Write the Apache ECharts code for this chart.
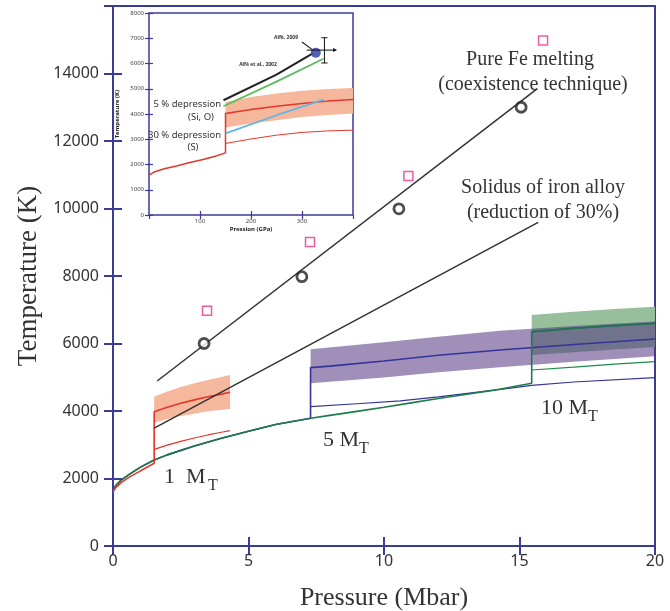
<!DOCTYPE html>
<html>
<head>
<meta charset="utf-8">
<script src="https://cdn.jsdelivr.net/npm/echarts@6/dist/echarts.min.js"></script>
<style>
html, body { margin: 0; padding: 0; background: #fff; }
#chart { width: 670px; height: 611px; }
</style>
</head>
<body>
<div id="chart"></div>
<script>
// -------------------------
// Melting curves vs pressure, with inset
// -------------------------

const axisBlue = '#3b3b9b';
const serif = '"Liberation Serif", "Times New Roman", serif';
const sans = '"Noto Sans", "Open Sans", sans-serif';

// ---- main panel: pressure (Mbar) / temperature (K) ----
const redBaseP = [0, 0.1, 0.3, 0.6, 1, 1.52];
const redBaseT = [1600, 1730, 1880, 2040, 2220, 2450];
const redTopP = [1.52, 2, 2.5, 3, 3.5, 4, 4.32];
const redTopT = [3980, 4110, 4230, 4330, 4420, 4500, 4554];
const redLowT = [2865, 2990, 3100, 3200, 3290, 3370, 3417];
const orangeHiT = [4425, 4580, 4710, 4820, 4920, 5010, 5067];
const orangeLoT = [3654, 3760, 3850, 3920, 3990, 4040, 4059];

const adiabatP = [0, 0.1, 0.3, 0.6, 1, 1.5, 2, 3, 4, 5, 6, 7.29];
const adiabatT = [1650, 1790, 1950, 2120, 2330, 2540, 2700, 2960, 3190, 3400, 3600, 3783];
const greenMidP = [7.29, 8, 9, 10, 11, 12, 13, 14, 15.45];
const greenMidT = [3783, 3870, 3990, 4110, 4240, 4370, 4490, 4610, 4820];

const blueTopP = [7.29, 8, 10, 12, 14.28, 17, 20];
const blueTopT = [5284, 5330, 5480, 5650, 5807, 5970, 6133];
const purpleP = [7.29, 10, 12, 14.28, 17, 20];
const purpleHiT = [5827, 6040, 6200, 6380, 6520, 6650];
const purpleLoT = [4820, 4990, 5150, 5295, 5460, 5620];
const blueLowP = [7.29, 9, 10.6, 12, 14.3, 15.45, 17, 20];
const blueLowT = [4128, 4215, 4300, 4420, 4640, 4760, 4860, 4988];

const greenTopP = [15.45, 17, 18.5, 20];
const greenTopT = [6350, 6450, 6530, 6598];
const greenHiT = [6844, 6940, 7020, 7091];
const greenLoT = [5659, 5740, 5820, 5900];
const greenLowT = [5215, 5300, 5390, 5462];

const pureFeP = [1.63, 15.66];
const pureFeT = [4889, 13551];
const solidusP = [1.52, 15.69];
const solidusT = [3490, 9590];

const abInitioP = [3.36, 6.97, 10.55, 15.06];
const abInitioT = [6000, 7980, 9990, 13000];
const squareP = [3.47, 7.27, 10.9, 15.87];
const squareT = [6970, 9010, 10960, 14980];

// ---- inset: pressure (GPa) / temperature (K) ----
const inRedBaseP = [0, 10, 30, 54, 80, 106, 130, 150];
const inRedBaseT = [1580, 1700, 1830, 1940, 2080, 2200, 2330, 2460];
const inRedTopP = [150, 200, 250, 300, 350, 400];
const inRedTopT = [4020, 4180, 4308, 4420, 4510, 4573];
const inRedLowT = [2834, 3010, 3162, 3270, 3330, 3360];
const inBandHiT = [4478, 4670, 4810, 4920, 4990, 5032];
const inBandLoT = [3466, 3620, 3755, 3880, 3960, 4020];
const inLightBlueP = [150, 250, 342];
const inLightBlueT = [3229, 3950, 4573];
const inBlackP = [146, 250, 322];
const inBlackT = [4545, 5560, 6415];
const inGreenP = [146, 250, 342];
const inGreenT = [4308, 5280, 6190];
const alfe2009 = [327, 6430];
const errX = [309, 365];   // GPa, horizontal bar
const errY = [6020, 7020]; // K, vertical bar
const errCenter = [344, 6530];
const alfeLeaderP = [300, 322];
const alfeLeaderT = [6850, 6520];

// ----------------------
// helpers
// ----------------------
function zip(xs, ys) {
	return xs.map((x, i) => [x, ys[i]]);
}

function band(xs, lo, hi, color, xi, yi, z) {
	return {
		type: 'custom', xAxisIndex: xi, yAxisIndex: yi, z: z, silent: true, clip: true,
		data: [[xs[0], lo[0]]],
		renderItem: (params, api) => {
			const pts = [];
			for (let i = 0; i < xs.length; i++) pts.push(api.coord([xs[i], hi[i]]));
			for (let i = xs.length - 1; i >= 0; i--) pts.push(api.coord([xs[i], lo[i]]));
			return { type: 'polygon', shape: { points: pts }, style: { fill: color } };
		}
	};
}

function line(data, color, width, xi, yi, z) {
	return {
		type: 'line', data: data, xAxisIndex: xi, yAxisIndex: yi, z: z,
		showSymbol: false, symbol: 'none', silent: true,
		lineStyle: { color: color, width: width }
	};
}

function boxAxis(gridIndex, pos, min, max, interval, len, w, z) {
	return {
		type: 'value', gridIndex: gridIndex, position: pos, min: min, max: max, interval: interval, z: z,
		axisLine: { show: false },
		axisTick: { show: true, inside: true, length: len, lineStyle: { color: axisBlue, width: w } },
		axisLabel: { show: false },
		splitLine: { show: false }
	};
}

function text(x, y, str, font, align, extra) {
	return Object.assign({
		type: 'text', x: x, y: y, z: 20,
		style: { text: str, font: font, fill: '#333', align: align, textAlign: align,
			verticalAlign: 'middle', textVerticalAlign: 'middle' }
	}, extra || {});
}

const plain = v => String(v);

// ----------------------
// series
// ----------------------
const red = zip(redBaseP, redBaseT).concat(zip(redTopP, redTopT));
const blue = zip(adiabatP, adiabatT).concat(zip(blueTopP, blueTopT));
const green = zip(adiabatP, adiabatT).concat(zip(greenMidP, greenMidT).slice(1)).concat(zip(greenTopP, greenTopT));

const series = [
	band(greenTopP, greenLoT, greenHiT, '#97bf9c', 0, 0, 1),
	band(purpleP, purpleLoT, purpleHiT, 'rgba(82,51,128,0.55)', 0, 0, 1),
	band(redTopP, orangeLoT, orangeHiT, '#f6b89d', 0, 0, 1),

	line(zip(redTopP, redLowT), '#e4362b', 1.2, 0, 0, 2),
	line(zip(blueLowP, blueLowT), '#34349a', 1.2, 0, 0, 2),
	line(zip(greenTopP, greenLowT), '#1e8a4b', 1.2, 0, 0, 2),
	line(blue, '#34349a', 1.6, 0, 0, 2),
	line(green, '#1e7b4b', 1.6, 0, 0, 2),
	line(red, '#e4362b', 1.6, 0, 0, 2),
	line(zip(greenTopP, greenTopT), '#26705a', 1.8, 0, 0, 2),

	line(zip(pureFeP, pureFeT), '#333', 1.5, 0, 0, 2),
	line(zip(solidusP, solidusT), '#333', 1.5, 0, 0, 2),
	{
		type: 'scatter', data: zip(abInitioP, abInitioT), xAxisIndex: 0, yAxisIndex: 0, z: 3,
		symbol: 'circle', symbolSize: 10, silent: true,
		itemStyle: { color: '#fff', borderColor: '#222', borderWidth: 2.8 }
	},
	{
		type: 'scatter', data: zip(squareP, squareT), xAxisIndex: 0, yAxisIndex: 0, z: 3,
		symbol: 'rect', symbolSize: 9, silent: true,
		itemStyle: { color: '#fff', borderColor: '#e8328c', borderWidth: 1.5 }
	},

	// inset
	band(inRedTopP, inBandLoT, inBandHiT, '#f6b89d', 2, 2, 6),
	line(zip(inRedTopP, inRedLowT), '#e4362b', 1, 2, 2, 7),
	line(zip(inRedBaseP, inRedBaseT).concat(zip(inRedTopP, inRedTopT)), '#e4362b', 1.5, 2, 2, 7),
	line(zip(inLightBlueP, inLightBlueT), '#5bb5e8', 1.8, 2, 2, 7),
	line(zip(inBlackP, inBlackT), '#222', 2, 2, 2, 7),
	line(zip(inGreenP, inGreenT), '#5cbb5c', 1.8, 2, 2, 7),
	line(zip(alfeLeaderP, alfeLeaderT), '#222', 1.2, 2, 2, 7),
	{
		type: 'scatter', data: [alfe2009], xAxisIndex: 2, yAxisIndex: 2, z: 8,
		symbol: 'circle', symbolSize: 10, silent: true,
		itemStyle: { color: '#3f4fb0', opacity: 0.9 }
	},
	line([[errCenter[0], errY[0]], [errCenter[0], errY[1]]], '#111', 1, 2, 2, 9),
	line([[errCenter[0] - 6, errY[0]], [errCenter[0] + 6, errY[0]]], '#111', 1, 2, 2, 9),
	line([[errCenter[0] - 6, errY[1]], [errCenter[0] + 6, errY[1]]], '#111', 1, 2, 2, 9),
	Object.assign(line([[errX[0], errCenter[1]], [errX[1], errCenter[1]]], '#111', 1, 2, 2, 9), {
		showSymbol: true,
		data: [
			{ value: [errX[0], errCenter[1]], symbol: 'none' },
			{ value: [errX[1], errCenter[1]], symbol: 'triangle', symbolRotate: -90, symbolSize: 4, itemStyle: { color: '#111' } }
		]
	})
];

// ----------------------
// chart
// ----------------------
const chart = echarts.init(document.getElementById('chart'));
chart.setOption({
	animation: false,
	backgroundColor: '#fff',
	grid: [
		{ left: 113, right: 15, top: 6, bottom: 65, show: true, borderColor: axisBlue, borderWidth: 2, z: 0,
			outerBoundsMode: 'none', containLabel: false },
		{ left: 149, top: 13, width: 204, height: 202, show: true, backgroundColor: '#fff',
			borderColor: axisBlue, borderWidth: 1.5, z: 4, outerBoundsMode: 'none', containLabel: false }
	],
	xAxis: [
		{
			type: 'value', gridIndex: 0, min: 0, max: 20, interval: 5, z: 5,
			name: 'Pressure (Mbar)', nameLocation: 'middle', nameGap: 39,
			nameTextStyle: { fontFamily: serif, fontSize: 26, color: '#333' },
			axisLine: { show: false },
			axisTick: { inside: true, length: 9, lineStyle: { color: axisBlue, width: 2 } },
			axisLabel: { fontFamily: sans, fontSize: 16, color: '#333', margin: 7, formatter: plain },
			splitLine: { show: false }
		},
		boxAxis(0, 'top', 0, 20, 5, 9, 2, 5),
		{
			type: 'value', gridIndex: 1, min: 0, max: 400, interval: 100, z: 5,
			name: 'Pression (GPa)', nameLocation: 'middle', nameGap: 11,
			nameTextStyle: { fontFamily: sans, fontSize: 6, fontWeight: 'bold', color: '#222' },
			axisLine: { show: false },
			axisTick: { inside: true, length: 4, lineStyle: { color: axisBlue, width: 1.2 } },
			axisLabel: { fontFamily: sans, fontSize: 6, color: '#444', margin: 3, showMinLabel: false, showMaxLabel: false, formatter: plain },
			splitLine: { show: false }
		},
		boxAxis(1, 'top', 0, 400, 100, 4, 1.2, 5)
	],
	yAxis: [
		{
			type: 'value', gridIndex: 0, min: 0, max: 16000, interval: 2000, z: 5,
			name: 'Temperature (K)', nameLocation: 'middle', nameGap: 70, nameRotate: 90,
			nameTextStyle: { fontFamily: serif, fontSize: 27, color: '#333' },
			axisLine: { show: false },
			axisTick: { inside: true, length: 9, lineStyle: { color: axisBlue, width: 2 } },
			axisLabel: { fontFamily: sans, fontSize: 16, color: '#333', margin: 14, showMaxLabel: false, formatter: plain },
			splitLine: { show: false }
		},
		boxAxis(0, 'right', 0, 16000, 2000, 9, 2, 5),
		{
			type: 'value', gridIndex: 1, min: 0, max: 8000, interval: 1000, z: 5,
			name: 'Temperature (K)', nameLocation: 'middle', nameGap: 29, nameRotate: 90,
			nameTextStyle: { fontFamily: sans, fontSize: 6, fontWeight: 'bold', color: '#222' },
			axisLine: { show: false },
			axisTick: { inside: true, length: 4, lineStyle: { color: axisBlue, width: 1.2 } },
			axisLabel: { fontFamily: sans, fontSize: 6, color: '#444', margin: 5, formatter: plain },
			splitLine: { show: false }
		},
		boxAxis(1, 'right', 0, 8000, 1000, 4, 1.2, 5)
	],
	series: series,
	graphic: [
		text(530, 60, 'Pure Fe melting', '20px ' + serif, 'center'),
		text(533, 85, '(coexistence technique)', '20px ' + serif, 'center'),
		text(543, 188, 'Solidus of iron alloy', '20px ' + serif, 'center'),
		text(543, 213, '(reduction of 30%)', '20px ' + serif, 'center'),
		text(164, 477, '1  M', '22px ' + serif, 'left'),
		text(208, 486, 'T', '16px ' + serif, 'left'),
		text(323, 440, '5 M', '22px ' + serif, 'left'),
		text(359, 449, 'T', '16px ' + serif, 'left'),
		text(541, 408, '10 M', '22px ' + serif, 'left'),
		text(588, 417, 'T', '16px ' + serif, 'left'),
		// inset labels
		text(221, 104, '5 % depression', '9.5px ' + sans, 'right', { z: 30 }),
		text(201, 117, '(Si, O)', '9.5px ' + sans, 'center', { z: 30 }),
		text(221, 135, '30 % depression', '9.5px ' + sans, 'right', { z: 30 }),
		text(193, 147, '(S)', '9.5px ' + sans, 'center', { z: 30 }),
		text(286, 38, 'Alfè, 2009', 'bold 5px ' + sans, 'center', { z: 30 }),
		text(258, 65, 'Alfè et al., 2002', 'bold 5px ' + sans, 'center', { z: 30 })
	]
});
</script>
</body>
</html>
